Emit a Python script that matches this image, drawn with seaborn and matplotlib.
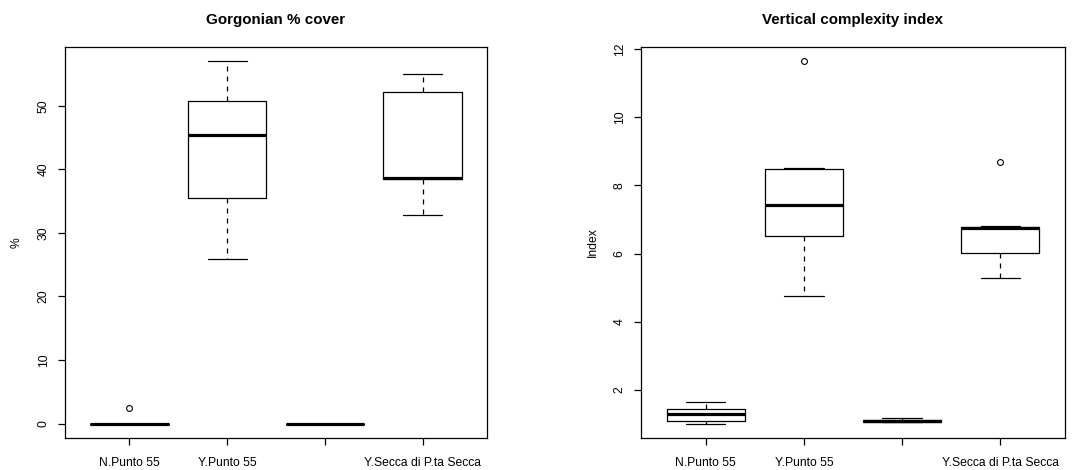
import numpy as np
import pandas as pd
import matplotlib
matplotlib.use("Agg")
import matplotlib.pyplot as plt
import seaborn as sns

# ---------------- data ----------------
categories = ["N.Punto 55", "Y.Punto 55", "N.Secca di P.ta Secca", "Y.Secca di P.ta Secca"]
tick_labels = ["N.Punto 55", "Y.Punto 55", "", "Y.Secca di P.ta Secca"]

# Gorgonian % cover (observations per site)
cover_n_punto = [0, 0, 0, 0, 0, 0, 0, 0, 2.4]
cover_y_punto = [25.9, 30.0, 35.5, 42.0, 45.4, 48.0, 50.8, 54.0, 57.0]
cover_n_secca = [0, 0, 0, 0, 0, 0, 0, 0, 0]
cover_y_secca = [32.8, 35.0, 38.5, 38.6, 38.6, 45.0, 52.2, 54.0, 55.1]

# Vertical complexity index (observations per site)
vci_n_punto = [1.02, 1.05, 1.10, 1.20, 1.29, 1.38, 1.44, 1.55, 1.66]
vci_y_punto = [4.75, 5.80, 6.51, 7.00, 7.43, 8.00, 8.48, 8.50, 11.63]
vci_n_secca = [1.05, 1.06, 1.07, 1.09, 1.10, 1.11, 1.13, 1.15, 1.17]
vci_y_secca = [5.28, 5.60, 6.01, 6.50, 6.74, 6.76, 6.78, 6.80, 8.68]

titles = ["Gorgonian % cover", "Vertical complexity index"]
ylabels = ["%", "Index"]
yticks_cover = [0, 10, 20, 30, 40, 50]
yticks_vci = [2, 4, 6, 8, 10, 12]


def long_frame(groups):
    rows = []
    for cat, vals in zip(categories, groups):
        for v in vals:
            rows.append({"site": cat, "value": v})
    return pd.DataFrame(rows)


df_cover = long_frame([cover_n_punto, cover_y_punto, cover_n_secca, cover_y_secca])
df_vci = long_frame([vci_n_punto, vci_y_punto, vci_n_secca, vci_y_secca])

# ---------------- style ----------------
sns.set_style("white")
plt.rcParams["font.family"] = ["Liberation Sans", "DejaVu Sans"]
plt.rcParams["text.color"] = "black"
plt.rcParams["axes.labelcolor"] = "black"
plt.rcParams["xtick.color"] = "black"
plt.rcParams["ytick.color"] = "black"

fig = plt.figure(figsize=(10.77, 4.70), dpi=100)
ax1 = fig.add_axes([65 / 1077, 32 / 470, 422 / 1077, 391 / 470])
ax2 = fig.add_axes([641 / 1077, 32 / 470, 424 / 1077, 391 / 470])

lw = 0.9
for ax, df, title, ylab, yt in [
    (ax1, df_cover, titles[0], ylabels[0], yticks_cover),
    (ax2, df_vci, titles[1], ylabels[1], yticks_vci),
]:
    sns.boxplot(
        data=df, x="site", y="value", order=categories, ax=ax,
        fill=False, color="black", width=0.8, linewidth=lw, whis=1.5,
        boxprops=dict(color="black", linewidth=lw),
        whiskerprops=dict(color="black", linewidth=lw, linestyle=(0, (4, 4))),
        capprops=dict(color="black", linewidth=lw),
        medianprops=dict(color="black", linewidth=2.3),
        flierprops=dict(marker="o", markersize=4.2, markerfacecolor="none",
                        markeredgecolor="black", markeredgewidth=0.8),
    )
    vmin, vmax = df["value"].min(), df["value"].max()
    rng = vmax - vmin
    ax.set_ylim(vmin - 0.04 * rng, vmax + 0.04 * rng)
    ax.set_xlim(-0.66, 3.66)
    ax.set_xticks(range(len(categories)))
    ax.set_xticklabels(tick_labels, fontsize=8.7, color="black")
    ax.set_yticks(yt)
    ax.set_yticklabels([str(t) for t in yt], fontsize=8.7, rotation=90, va="center",
                       color="black")
    ax.tick_params(axis="both", direction="out", length=5, width=lw, color="black",
                   bottom=True, left=True)
    ax.tick_params(axis="x", pad=9)
    ax.tick_params(axis="y", pad=6)
    ax.set_xlabel("")
    ax.set_ylabel(ylab, fontsize=8.7, labelpad=11, color="black")
    ax.set_title(title, fontsize=10.9, fontweight="bold", pad=16.5, color="black")
    for s in ax.spines.values():
        s.set_visible(True)
        s.set_color("black")
        s.set_linewidth(lw)

fig.savefig("out.png", dpi=100, facecolor="white")
